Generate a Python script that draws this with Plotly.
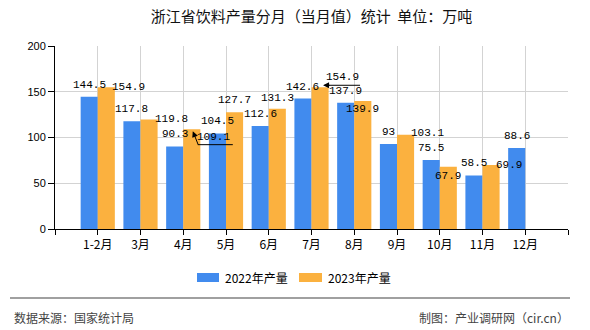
import plotly.graph_objects as go

categories = ["1-2月", "3月", "4月", "5月", "6月", "7月", "8月", "9月", "10月", "11月", "12月"]
prod_2022 = [144.5, 117.8, 90.3, 104.5, 112.6, 142.6, 137.9, 93, 75.5, 58.5, 88.6]
prod_2023 = [154.9, 119.8, 109.1, 127.7, 131.3, 154.9, 139.9, 103.1, 67.9, 69.9, None]
series_names = ["2022年产量", "2023年产量"]
y_ticks = [0, 50, 100, 150, 200]

title_text = "浙江省饮料产量分月（当月值）统计  单位：万吨"
source_left = "数据来源：国家统计局"
source_right = "制图：产业调研网（cir.cn）"

BLUE = "#418BEE"
ORANGE = "#FBB13F"

# label pixel offsets (style only): (dx, dy) with dy up-positive
off_2022 = [(0, 12)] * 11
off_2023 = [(22, 0), (22, 0), (22, -8), (0, 12), (0, 11), (22, 10), (0, -8), (22, 2), (0, -9), (18, 0), None]
callouts_2023 = {2: "down", 5: "up"}

xs = list(range(len(categories)))

fig = go.Figure()
fig.add_trace(go.Bar(x=xs, y=prod_2022, name=series_names[0], marker=dict(color=BLUE, line=dict(width=0)),
                     showlegend=False, hoverinfo="skip"))
fig.add_trace(go.Bar(x=xs, y=prod_2023, name=series_names[1], marker=dict(color=ORANGE, line=dict(width=0)),
                     showlegend=False, hoverinfo="skip"))

label_font = dict(family="Liberation Mono, DejaVu Sans Mono, monospace", size=11, color="#000")

def fmt(v):
    return ("%g" % v)

annotations = []
shapes = []
for i, v in enumerate(prod_2022):
    if v is None:
        continue
    dx, dy = off_2022[i]
    annotations.append(dict(x=i - 0.2, y=v, xref="x", yref="y", text=fmt(v), showarrow=False,
                            xanchor="center", yanchor="middle", xshift=dx, yshift=dy, font=label_font))
for i, v in enumerate(prod_2023):
    if v is None:
        continue
    dx, dy = off_2023[i]
    annotations.append(dict(x=i + 0.2, y=v, xref="x", yref="y", text=fmt(v), showarrow=False,
                            xanchor="center", yanchor="middle", xshift=dx, yshift=dy, font=label_font))
    if i in callouts_2023:
        if callouts_2023[i] == "down":
            annotations.append(dict(x=i + 0.2, y=v, xref="x", yref="y", text="", showarrow=True,
                                    ax=6, ay=15, arrowhead=2, arrowsize=1.2, arrowwidth=1, arrowcolor="#000",
                                    xshift=1, yshift=-2))
            shapes.append(dict(type="line", xref="x", yref="y", xsizemode="pixel", ysizemode="pixel",
                               xanchor=i + 0.2, yanchor=v, x0=6, x1=41, y0=-15.5, y1=-15.5,
                               line=dict(color="#000", width=1)))
        else:
            annotations.append(dict(x=i + 0.2, y=v, xref="x", yref="y", text="", showarrow=True,
                                    ax=8, ay=0, arrowhead=2, arrowsize=1.2, arrowwidth=1, arrowcolor="#000",
                                    xshift=3, yshift=2))
            shapes.append(dict(type="line", xref="x", yref="y", xsizemode="pixel", ysizemode="pixel",
                               xanchor=i + 0.2, yanchor=v, x0=6, x1=40, y0=2, y1=2,
                               line=dict(color="#000", width=1)))

# plot area in pixels: x 55..568, y 46..229
L, R, T, B = 55, 22, 46, 101
PW, PH = 590 - L - R, 330 - T - B

def px(xp):
    return (xp - L) / PW

def py(yp):
    return (T + PH - yp) / PH

# custom legend
leg = [(197, 219, 223, BLUE, series_names[0]), (299, 322, 326, ORANGE, series_names[1])]
for x0, x1, xt, col, name in leg:
    shapes.append(dict(type="rect", xref="paper", yref="paper", x0=px(x0), x1=px(x1), y0=py(282), y1=py(273),
                       fillcolor=col, line=dict(width=0)))
    annotations.append(dict(x=px(xt), y=py(277.5), xref="paper", yref="paper", text=name, showarrow=False,
                            xanchor="left", yanchor="middle",
                            font=dict(family="Noto Sans CJK SC", size=12, color="#000")))

# footer line and texts
shapes.append(dict(type="line", xref="paper", yref="paper", x0=px(10), x1=px(570), y0=py(298), y1=py(298),
                   line=dict(color="#808080", width=1.5)))
annotations.append(dict(x=px(12), y=py(317), xref="paper", yref="paper", text=source_left, showarrow=False,
                        xanchor="left", yanchor="middle", font=dict(family="Noto Sans CJK SC", size=12, color="#444")))
annotations.append(dict(x=px(571), y=py(317), xref="paper", yref="paper", text=source_right, showarrow=False,
                        xanchor="right", yanchor="middle", font=dict(family="Noto Sans CJK SC", size=12, color="#444")))

tickvals = [-1] + xs + [len(categories)]
ticktext = [""] + categories + [""]

fig.update_layout(
    width=590, height=330,
    margin=dict(l=L, r=R, t=T, b=B),
    paper_bgcolor="#fff", plot_bgcolor="#fff",
    barmode="group", bargap=0.2, bargroupgap=0,
    title=dict(text=title_text, x=0.5, xref="paper", xanchor="center", y=1 - 17 / 330, yanchor="middle",
               font=dict(family="Noto Sans CJK SC", size=15, color="#111")),
    xaxis=dict(range=[-1, len(categories)], tickmode="array", tickvals=tickvals, ticktext=ticktext,
               showgrid=True, gridcolor="#d3d3d3", gridwidth=1, showline=True, linecolor="#000", linewidth=1,
               ticks="outside", ticklen=5, tickcolor="#000", zeroline=False,
               tickfont=dict(family="Noto Sans CJK SC", size=12, color="#000")),
    yaxis=dict(range=[0, 200], tickmode="array", tickvals=y_ticks, showgrid=True, gridcolor="#d3d3d3",
               gridwidth=1, showline=True, linecolor="#000", linewidth=1, ticks="outside", ticklen=6,
               tickcolor="#000", zeroline=False,
               tickfont=dict(family="Liberation Sans, Arial", size=11, color="#000")),
    annotations=annotations, shapes=shapes,
)

fig.write_html("out.html")
